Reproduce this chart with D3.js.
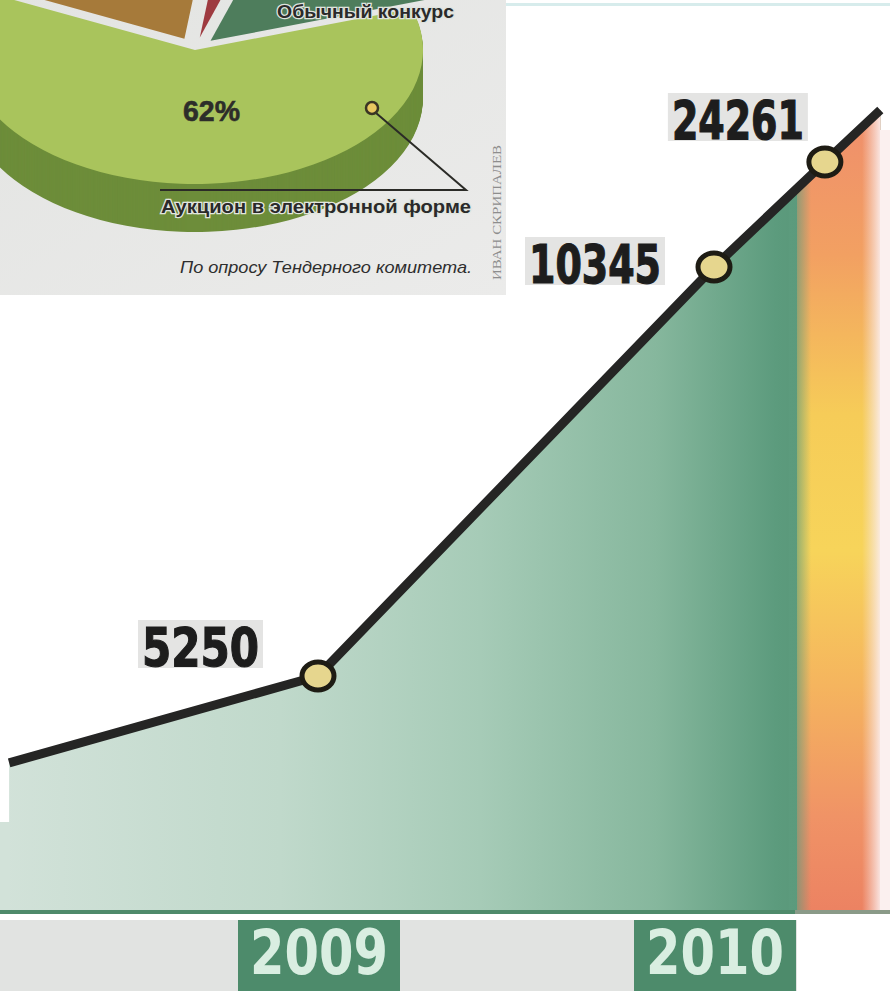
<!DOCTYPE html>
<html><head><meta charset="utf-8">
<script src="https://cdn.jsdelivr.net/npm/d3@7"></script>
<style>body{margin:0;background:#fff;overflow:hidden} svg{display:block}</style>
</head><body><svg id="c" width="890" height="991"></svg>
<script>
// ---- data ----
const periods = [2008.22, 2009, 2010, 2010.28, 2010.42];
const values = [3300, 5250, 10345, 24261, 31150];
const markerPeriods = [2009, 2010, 2010.28];
const markerValues = [5250, 10345, 24261];
const yearTicks = [2009, 2010];
const yearLabels = ["2009", "2010"];
const pieCategories = ["Аукцион в электронной форме", "Другие способы", "Прочее", "Обычный конкурс"];
const pieShares = [62, 20, 3, 15];
const pieColors = ["#a9c45c", "#a67a3a", "#9e3a40", "#4e7d5c"];
const pieLabel = "62%";
const sourceText = "По опросу Тендерного комитета.";
const authorText = "ИВАН СКРИПАЛЕВ";

const svg = d3.select("#c");
const defs = svg.append("defs");

// ---- scales ----
const x = d3.scaleLinear().domain([2009, 2010]).range([318, 714]);
const y = d3.scaleLinear().domain([0, ...markerValues]).range([910, 676, 267, 162]);
const base = y(0);

// gradients
const gA = defs.append("linearGradient").attr("id","gArea").attr("gradientUnits","userSpaceOnUse")
  .attr("x1",0).attr("x2",800).attr("y1",0).attr("y2",0);
[[0,"#d2e2d9"],[0.35,"#c0d9cb"],[0.6,"#a6cbb7"],[0.82,"#86b79d"],[0.97,"#5c9b7d"],[1,"#5a987a"]]
  .forEach(([o,c])=>gA.append("stop").attr("offset",o).attr("stop-color",c));
const gB = defs.append("linearGradient").attr("id","gBand").attr("gradientUnits","userSpaceOnUse")
  .attr("x1",0).attr("x2",0).attr("y1",110).attr("y2",912);
[[0,"#ef8e6c"],[0.18,"#f2a062"],[0.38,"#f6cc58"],[0.55,"#f7d45a"],[0.72,"#f5b45e"],[0.88,"#f09366"],[1,"#ec8262"]]
  .forEach(([o,c])=>gB.append("stop").attr("offset",o).attr("stop-color",c));
const gL = defs.append("linearGradient").attr("id","gBlend").attr("x1",0).attr("x2",1).attr("y1",0).attr("y2",0);
gL.append("stop").attr("offset",0).attr("stop-color","#5c9b7d").attr("stop-opacity",1);
gL.append("stop").attr("offset",1).attr("stop-color","#5c9b7d").attr("stop-opacity",0);
const gR = defs.append("linearGradient").attr("id","gFade").attr("x1",0).attr("x2",1).attr("y1",0).attr("y2",0);
gR.append("stop").attr("offset",0).attr("stop-color","#f6e0da").attr("stop-opacity",0);
gR.append("stop").attr("offset",1).attr("stop-color","#fbeeee").attr("stop-opacity",1);
const gP = defs.append("linearGradient").attr("id","gPanel").attr("x1",0).attr("x2",1).attr("y1",0).attr("y2",1);
gP.append("stop").attr("offset",0).attr("stop-color","#e3e4e2");
gP.append("stop").attr("offset",1).attr("stop-color","#ebebea");

// ---- area + band ----
const pts = periods.map((t,i)=>({t, v: values[i]}));
const area = d3.area().x(d=>x(d.t)).y0(base).y1(d=>y(d.v));
const line = d3.line().x(d=>x(d.t)).y(d=>y(d.v));

defs.append("clipPath").attr("id","clipArea").append("path").attr("d", area(pts));
svg.append("path").attr("d", area(pts)).attr("fill","url(#gArea)");
svg.append("rect").attr("x",0).attr("y",822).attr("width",x(periods[0])+1).attr("height",base-822).attr("fill","#d2e2d9");

const band = svg.append("g").attr("clip-path","url(#clipArea)");
band.append("rect").attr("x",797).attr("y",0).attr("width",100).attr("height",base).attr("fill","url(#gBand)");
band.append("rect").attr("x",789).attr("y",0).attr("width",22).attr("height",base).attr("fill","url(#gBlend)");
band.append("rect").attr("x",862).attr("y",0).attr("width",20).attr("height",base).attr("fill","url(#gFade)");
svg.append("rect").attr("x",880).attr("y",130).attr("width",10).attr("height",base-130).attr("fill","#fbf0ef");

// baseline
svg.append("rect").attr("x",0).attr("y",base).attr("width",890).attr("height",4).attr("fill","#4f8a6b");
svg.append("rect").attr("x",795).attr("y",base).attr("width",95).attr("height",4).attr("fill","#8a9a88");

// year strip
svg.append("rect").attr("x",0).attr("y",920).attr("width",797).attr("height",71).attr("fill","#e1e3e1");
const yr = svg.append("g").selectAll("g").data(yearTicks).join("g");
yr.append("rect").attr("x",d=>x(d)-80).attr("y",920).attr("width",162).attr("height",71).attr("fill","#4d8b6b");
yr.append("text").attr("x",d=>x(d)+1).attr("y",974).attr("text-anchor","middle")
  .attr("font-family","'Liberation Sans Narrow','DejaVu Sans Condensed',sans-serif").attr("font-weight","bold")
  .attr("font-size",62).attr("fill","#d9eee1").attr("textLength",138).attr("lengthAdjust","spacingAndGlyphs")
  .text((d,i)=>yearLabels[i]);

// line
svg.append("path").attr("d", line(pts)).attr("fill","none").attr("stroke","#252524")
  .attr("stroke-width",9).attr("stroke-linecap","butt").attr("stroke-linejoin","round");

// markers
const mk = markerPeriods.map((t,i)=>({t, v: markerValues[i]}));
svg.append("g").selectAll("ellipse").data(mk).join("ellipse")
  .attr("cx",d=>x(d.t)).attr("cy",d=>y(d.v)).attr("rx",16).attr("ry",14)
  .attr("fill","#e6d68e").attr("stroke","#1e1c14").attr("stroke-width",5);

// value labels
const lblOff = [{dx:-180, dy:-56, w:125}, {dx:-189, dy:-30, w:140}, {dx:-157, dy:-69, w:140}];
const lg = svg.append("g").selectAll("g").data(mk).join("g")
  .attr("transform",(d,i)=>`translate(${x(d.t)+lblOff[i].dx},${y(d.v)+lblOff[i].dy})`);
lg.append("rect").attr("x",0).attr("y",0).attr("width",(d,i)=>lblOff[i].w).attr("height",48).attr("fill","#e4e4e3");
lg.append("text").attr("x",(d,i)=>lblOff[i].w/2).attr("y",46).attr("text-anchor","middle")
  .attr("font-family","'Liberation Sans Narrow','DejaVu Sans Condensed',sans-serif").attr("font-weight","bold")
  .attr("font-size",54).attr("fill","#1d1d1d").attr("stroke","#1d1d1d").attr("stroke-width",1.2)
  .attr("textLength",(d,i)=>lblOff[i].w-8).attr("lengthAdjust","spacingAndGlyphs")
  .text(d=>d.v);

// ---- pie panel ----
svg.append("rect").attr("x",0).attr("y",0).attr("width",506).attr("height",295).attr("fill","url(#gPanel)");
svg.append("rect").attr("x",506).attr("y",3).attr("width",384).attr("height",3).attr("fill","#d7ecec");
defs.append("clipPath").attr("id","clipPanel").append("rect").attr("width",506).attr("height",295);

const cx = 195, cy = 50, rx = 228, ry = 134, k = ry/rx, depth = 48;
const pie = d3.pie().sort(null).value(d=>d).startAngle(72*Math.PI/180).endAngle((72+360)*Math.PI/180);
const arcs = pie(pieShares);
const arc = d3.arc().innerRadius(0).outerRadius(rx);
const pg = svg.append("g").attr("clip-path","url(#clipPanel)");
const shade = ["#6d8d3a","#7a5526","#6e2424","#2f5a40"];
[1,2,3,0].forEach(i=>{
  const a = arcs[i];
  const mid = (a.startAngle+a.endAngle)/2;
  const ex = i===0 ? 0 : 22;
  const ox = cx + Math.sin(mid)*ex, oy = cy - Math.cos(mid)*ex*k;
  const g = pg.append("g").attr("transform",`translate(${ox},${oy})`);
  if (i===0) {
    d3.range(depth,0,-1).forEach(dy=>{
      g.append("path").attr("transform",`translate(0,${dy}) scale(1,${k})`).attr("d",arc(a)).attr("fill",shade[i]);
    });
  }
  g.append("path").attr("transform",`scale(1,${k})`).attr("d",arc(a)).attr("fill",pieColors[i]);
});

// pie labels
const lblFont = "'Liberation Sans','Arial',sans-serif";
svg.append("text").attr("x",277).attr("y",18).attr("font-family",lblFont).attr("font-weight","bold")
  .attr("font-size",18).attr("fill","#2a2a2a").attr("stroke","#dfe3de").attr("stroke-width",2.5)
  .attr("paint-order","stroke").attr("textLength",177).attr("lengthAdjust","spacingAndGlyphs").text(pieCategories[3]);
svg.append("text").attr("x",183).attr("y",121).attr("font-family","'Liberation Sans Narrow',sans-serif").attr("font-weight","bold")
  .attr("font-size",30).attr("fill","#2d2d2a").attr("stroke","#2d2d2a").attr("stroke-width",0.6)
  .attr("textLength",57).attr("lengthAdjust","spacingAndGlyphs").text(pieLabel);
svg.append("path").attr("d","M376,113 L466,190 L160,190").attr("fill","none").attr("stroke","#2b2b27").attr("stroke-width",2);
svg.append("circle").attr("cx",372).attr("cy",108).attr("r",6).attr("fill","#e8c860").attr("stroke","#3a3524").attr("stroke-width",2.5);
svg.append("text").attr("x",161).attr("y",213).attr("font-family",lblFont).attr("font-weight","bold")
  .attr("font-size",18).attr("fill","#2a2a2a").attr("stroke","#e2e6df").attr("stroke-width",2.5)
  .attr("paint-order","stroke").attr("textLength",310).attr("lengthAdjust","spacingAndGlyphs").text(pieCategories[0]);
svg.append("text").attr("x",180).attr("y",273).attr("font-family",lblFont).attr("font-style","italic")
  .attr("font-size",17).attr("fill","#2e2e2e").attr("textLength",292).attr("lengthAdjust","spacingAndGlyphs").text(sourceText);
svg.append("text").attr("transform","translate(501,280) rotate(-90)").attr("font-family","'Liberation Serif',serif")
  .attr("font-size",12).attr("fill","#8d8d8d").attr("textLength",135).attr("lengthAdjust","spacingAndGlyphs").text(authorText);
</script></body></html>
